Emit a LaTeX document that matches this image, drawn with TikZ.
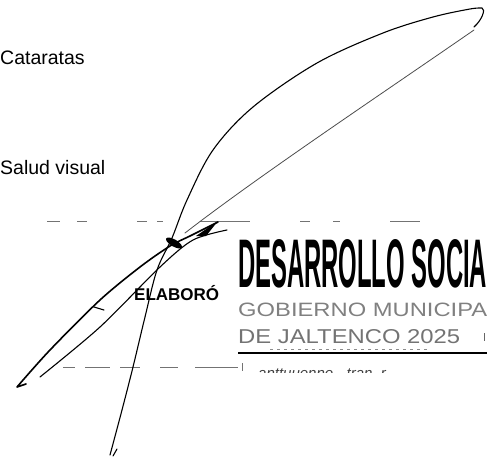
\documentclass[tikz,border=0pt]{standalone}
\usepackage{fontspec}
\usepackage{graphicx}
\setmainfont{Liberation Sans}
\begin{document}
\begin{tikzpicture}[x=1pt,y=-1pt,
  sig/.style={line width=1.1pt,line cap=round,line join=round},
  faint/.style={line width=0.6pt,black!70,line cap=round},
  rulebit/.style={line width=0.7pt,black!55},
  lbl/.style={anchor=base west,inner sep=0pt,font=\fontsize{19.5}{19.5}\selectfont}]
\useasboundingbox (0,0) rectangle (487,457);
% labels
\node[lbl] (cat) at (0,65) {Cataratas};
\node[lbl] (sv) at (0,175) {Salud visual};
% stamp
\node[anchor=base west,inner sep=0pt,font=\bfseries\fontsize{17}{17}\selectfont] (elab) at (134,300) {ELABORÓ};
\node[anchor=base west,inner sep=0pt] (desa) at (238,287) {\resizebox{249pt}{48pt}{\bfseries DESARROLLO SOCIA}};
\node[anchor=base west,inner sep=0pt,text=black!50] (gob) at (238,316) {\resizebox{249pt}{13.5pt}{GOBIERNO MUNICIPA}};
\node[anchor=base west,inner sep=0pt,text=black!55] (jal) at (238,343) {\resizebox{222pt}{14pt}{DE JALTENCO 2025}};
\draw[line width=2.4pt] (238,353) -- (487,353);
\draw[black!45,line width=0.8pt,dash pattern=on 3pt off 4pt] (270,349) -- (430,349);
\draw[black!60,line width=0.8pt] (484,333) -- (484,341);
% garbled clipped line
\begin{scope}
  \clip (238,360) rectangle (487,372);
  \node[anchor=base west,inner sep=0pt,text=black!75,font=\itshape\fontsize{15}{15}\selectfont] (garb) at (258,378) {anttuuenno\,--\,tran\ \ r};
\end{scope}
% dashed rules
\draw[rulebit] (47,221)--(60,221) (77,221)--(87,221) (137,221)--(147,221) (157,221)--(163,221)
  (200,221)--(250,221) (300,221)--(310,221) (333,221)--(340,221) (390,221)--(420,221);
\draw[rulebit] (63,367)--(75,367) (85,367)--(110,367) (120,367)--(140,367) (160,367)--(178,367)
  (195,367)--(238,367);
\draw[rulebit] (242,363)--(242,371);
% signature: long stroke with big loop
\draw[sig] plot[smooth,tension=0.55] coordinates {(110,455) (122,410) (133,367) (145,317) (157,270) (172,238) (187,200) (213,150) (253,107) (317,63) (383,33) (433,17) (470,9) (482,8)}
  .. controls (486,9) and (482,20) .. (474,27);
\draw[sig] (113,456) -- (117,449);
\draw[faint,line width=0.8pt] (474,30) .. controls (380,95) and (260,175) .. (185,233);
% signature: left loop
\draw[sig,line width=1.6pt] plot[smooth,tension=0.5] coordinates {(218,222) (190,236) (170,246) (140,267) (100,300) (50,350) (17,387)} -- (26,384);
\draw[sig] plot[smooth,tension=0.5] coordinates {(40,377) (100,327) (160,267) (193,240) (227,230)};
\draw[sig] (94,307) -- (104,310);
\fill[rotate around={-30:(174,243)}] (174,243) ellipse (9pt and 3.5pt);
\fill (196,236) -- (218,221) -- (206,236) -- cycle;
\end{tikzpicture}
\end{document}
